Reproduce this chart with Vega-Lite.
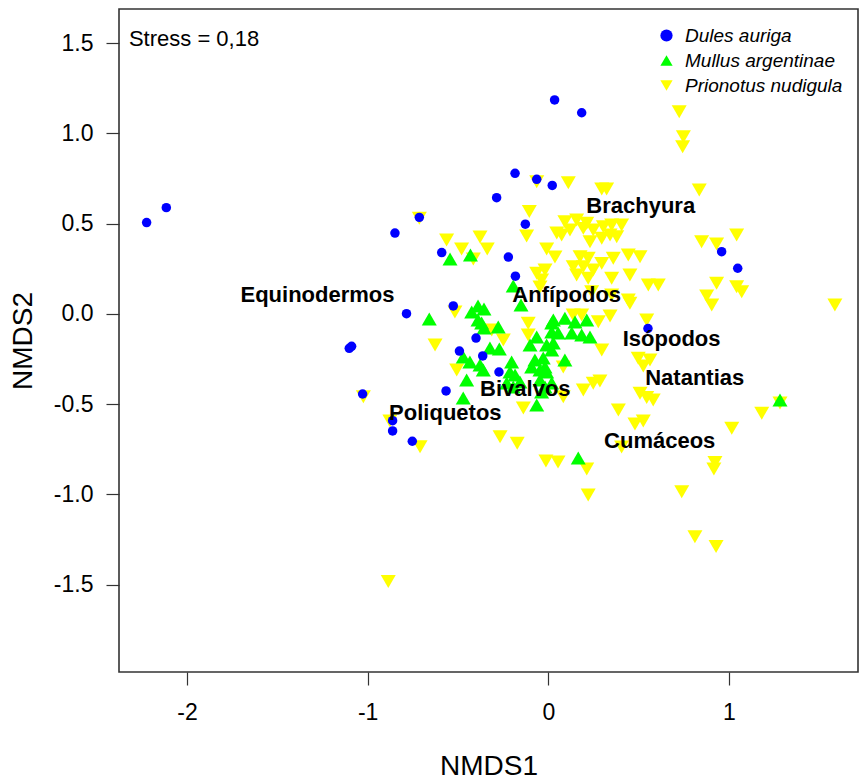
{
  "$schema": "https://vega.github.io/schema/vega-lite/v6.json",
  "width": 739,
  "height": 663,
  "autosize": {"type": "none"},
  "padding": {"left": 119, "top": 9, "right": 1, "bottom": 108},
  "config": {
    "font": "Liberation Sans",
    "view": {"stroke": "#333333", "strokeWidth": 1.6},
    "axis": {"grid": false, "domain": false, "tickColor": "#333333", "tickWidth": 1.2, "tickSize": 13, "labelColor": "#000000", "titleColor": "#000000", "titleFontWeight": "normal", "labelFont": "Liberation Sans", "titleFont": "Liberation Sans"}
  },
  "layer": [
    {
      "data": {"values": [
        {"sp":"Prionotus nudigula","x":0.725,"y":1.121},{"sp":"Prionotus nudigula","x":0.748,"y":0.982},{"sp":"Prionotus nudigula","x":0.744,"y":0.927},{"sp":"Prionotus nudigula","x":0.111,"y":0.727},{"sp":"Prionotus nudigula","x":0.296,"y":0.692},{"sp":"Prionotus nudigula","x":0.323,"y":0.692},{"sp":"Prionotus nudigula","x":0.836,"y":0.687},{"sp":"Prionotus nudigula","x":-0.064,"y":0.733},{"sp":"Prionotus nudigula","x":-0.714,"y":0.530},{"sp":"Prionotus nudigula","x":-0.105,"y":0.567},
        {"sp":"Prionotus nudigula","x":-0.120,"y":0.432},{"sp":"Prionotus nudigula","x":-0.563,"y":0.410},{"sp":"Prionotus nudigula","x":-0.378,"y":0.426},{"sp":"Prionotus nudigula","x":-0.480,"y":0.360},{"sp":"Prionotus nudigula","x":-0.338,"y":0.360},{"sp":"Prionotus nudigula","x":-0.415,"y":0.304},{"sp":"Prionotus nudigula","x":-0.009,"y":0.360},{"sp":"Prionotus nudigula","x":0.037,"y":0.315},{"sp":"Prionotus nudigula","x":0.047,"y":0.448},{"sp":"Prionotus nudigula","x":0.092,"y":0.511},
        {"sp":"Prionotus nudigula","x":0.157,"y":0.521},{"sp":"Prionotus nudigula","x":0.213,"y":0.502},{"sp":"Prionotus nudigula","x":0.074,"y":0.437},{"sp":"Prionotus nudigula","x":0.120,"y":0.465},{"sp":"Prionotus nudigula","x":0.194,"y":0.474},{"sp":"Prionotus nudigula","x":0.249,"y":0.465},{"sp":"Prionotus nudigula","x":0.305,"y":0.483},{"sp":"Prionotus nudigula","x":0.351,"y":0.493},{"sp":"Prionotus nudigula","x":0.406,"y":0.493},{"sp":"Prionotus nudigula","x":0.231,"y":0.400},
        {"sp":"Prionotus nudigula","x":0.296,"y":0.419},{"sp":"Prionotus nudigula","x":0.342,"y":0.437},{"sp":"Prionotus nudigula","x":0.379,"y":0.428},{"sp":"Prionotus nudigula","x":0.176,"y":0.317},{"sp":"Prionotus nudigula","x":0.221,"y":0.308},{"sp":"Prionotus nudigula","x":0.138,"y":0.262},{"sp":"Prionotus nudigula","x":0.194,"y":0.262},{"sp":"Prionotus nudigula","x":0.249,"y":0.243},{"sp":"Prionotus nudigula","x":0.296,"y":0.280},{"sp":"Prionotus nudigula","x":0.360,"y":0.308},
        {"sp":"Prionotus nudigula","x":0.443,"y":0.326},{"sp":"Prionotus nudigula","x":0.508,"y":0.317},{"sp":"Prionotus nudigula","x":0.157,"y":0.216},{"sp":"Prionotus nudigula","x":0.221,"y":0.197},{"sp":"Prionotus nudigula","x":0.351,"y":0.197},{"sp":"Prionotus nudigula","x":0.452,"y":0.216},{"sp":"Prionotus nudigula","x":0.554,"y":0.160},{"sp":"Prionotus nudigula","x":0.609,"y":0.160},{"sp":"Prionotus nudigula","x":-0.018,"y":0.243},{"sp":"Prionotus nudigula","x":-0.037,"y":0.188},
        {"sp":"Prionotus nudigula","x":-0.064,"y":0.225},{"sp":"Prionotus nudigula","x":-0.046,"y":0.149},{"sp":"Prionotus nudigula","x":0.240,"y":0.123},{"sp":"Prionotus nudigula","x":0.351,"y":0.105},{"sp":"Prionotus nudigula","x":0.443,"y":0.077},{"sp":"Prionotus nudigula","x":0.849,"y":0.400},{"sp":"Prionotus nudigula","x":0.932,"y":0.387},{"sp":"Prionotus nudigula","x":1.043,"y":0.437},{"sp":"Prionotus nudigula","x":0.932,"y":0.170},{"sp":"Prionotus nudigula","x":0.877,"y":0.099},
        {"sp":"Prionotus nudigula","x":0.905,"y":0.049},{"sp":"Prionotus nudigula","x":1.043,"y":0.151},{"sp":"Prionotus nudigula","x":1.071,"y":0.123},{"sp":"Prionotus nudigula","x":1.587,"y":0.049},{"sp":"Prionotus nudigula","x":0.277,"y":-0.043},{"sp":"Prionotus nudigula","x":0.342,"y":-0.012},{"sp":"Prionotus nudigula","x":0.138,"y":-0.006},{"sp":"Prionotus nudigula","x":0.185,"y":-0.006},{"sp":"Prionotus nudigula","x":0.545,"y":-0.034},{"sp":"Prionotus nudigula","x":0.452,"y":0.059},
        {"sp":"Prionotus nudigula","x":-0.517,"y":0.011},{"sp":"Prionotus nudigula","x":-0.627,"y":-0.172},{"sp":"Prionotus nudigula","x":-0.507,"y":-0.311},{"sp":"Prionotus nudigula","x":-0.111,"y":-0.052},{"sp":"Prionotus nudigula","x":-0.111,"y":-0.117},{"sp":"Prionotus nudigula","x":-0.249,"y":-0.145},{"sp":"Prionotus nudigula","x":-0.313,"y":-0.089},{"sp":"Prionotus nudigula","x":-0.138,"y":-0.522},{"sp":"Prionotus nudigula","x":-0.267,"y":-0.681},{"sp":"Prionotus nudigula","x":-0.172,"y":-0.717},
        {"sp":"Prionotus nudigula","x":-0.013,"y":-0.815},{"sp":"Prionotus nudigula","x":0.054,"y":-0.821},{"sp":"Prionotus nudigula","x":0.213,"y":-0.860},{"sp":"Prionotus nudigula","x":0.221,"y":-1.004},{"sp":"Prionotus nudigula","x":0.296,"y":-0.200},{"sp":"Prionotus nudigula","x":0.498,"y":-0.246},{"sp":"Prionotus nudigula","x":0.563,"y":-0.256},{"sp":"Prionotus nudigula","x":0.526,"y":-0.289},{"sp":"Prionotus nudigula","x":0.286,"y":-0.372},{"sp":"Prionotus nudigula","x":0.194,"y":-0.422},
        {"sp":"Prionotus nudigula","x":0.508,"y":-0.440},{"sp":"Prionotus nudigula","x":0.545,"y":-0.463},{"sp":"Prionotus nudigula","x":0.581,"y":-0.477},{"sp":"Prionotus nudigula","x":0.388,"y":-0.533},{"sp":"Prionotus nudigula","x":0.480,"y":-0.610},{"sp":"Prionotus nudigula","x":0.526,"y":-0.594},{"sp":"Prionotus nudigula","x":0.406,"y":-0.738},{"sp":"Prionotus nudigula","x":1.182,"y":-0.551},{"sp":"Prionotus nudigula","x":1.016,"y":-0.634},{"sp":"Prionotus nudigula","x":1.283,"y":-0.494},
        {"sp":"Prionotus nudigula","x":0.923,"y":-0.824},{"sp":"Prionotus nudigula","x":0.917,"y":-0.860},{"sp":"Prionotus nudigula","x":0.739,"y":-0.986},{"sp":"Prionotus nudigula","x":0.812,"y":-1.235},{"sp":"Prionotus nudigula","x":0.929,"y":-1.290},{"sp":"Prionotus nudigula","x":-0.710,"y":-0.736},{"sp":"Prionotus nudigula","x":-0.886,"y":-1.484},{"sp":"Prionotus nudigula","x":-1.024,"y":-0.459},{"sp":"Prionotus nudigula","x":-0.877,"y":-0.594},{"sp":"Prionotus nudigula","x":0.083,"y":-0.294},
        {"sp":"Prionotus nudigula","x":0.083,"y":-0.459},{"sp":"Prionotus nudigula","x":0.249,"y":-0.385},

        {"sp":"Mullus argentinae","x":-0.544,"y":0.304},{"sp":"Mullus argentinae","x":-0.431,"y":0.326},{"sp":"Mullus argentinae","x":-0.194,"y":0.155},{"sp":"Mullus argentinae","x":-0.151,"y":0.049},{"sp":"Mullus argentinae","x":-0.389,"y":0.044},{"sp":"Mullus argentinae","x":-0.356,"y":0.027},{"sp":"Mullus argentinae","x":-0.659,"y":-0.028},{"sp":"Mullus argentinae","x":-0.424,"y":0.011},{"sp":"Mullus argentinae","x":-0.389,"y":-0.034},{"sp":"Mullus argentinae","x":-0.356,"y":-0.078},
        {"sp":"Mullus argentinae","x":-0.277,"y":-0.073},{"sp":"Mullus argentinae","x":-0.323,"y":-0.189},{"sp":"Mullus argentinae","x":-0.271,"y":-0.195},{"sp":"Mullus argentinae","x":-0.471,"y":-0.239},{"sp":"Mullus argentinae","x":-0.434,"y":-0.267},{"sp":"Mullus argentinae","x":-0.378,"y":-0.283},{"sp":"Mullus argentinae","x":-0.360,"y":-0.311},{"sp":"Mullus argentinae","x":-0.203,"y":-0.267},{"sp":"Mullus argentinae","x":-0.212,"y":-0.322},{"sp":"Mullus argentinae","x":-0.184,"y":-0.339},
        {"sp":"Mullus argentinae","x":-0.101,"y":-0.172},{"sp":"Mullus argentinae","x":-0.074,"y":-0.256},{"sp":"Mullus argentinae","x":-0.092,"y":-0.294},{"sp":"Mullus argentinae","x":-0.046,"y":-0.311},{"sp":"Mullus argentinae","x":-0.064,"y":-0.128},{"sp":"Mullus argentinae","x":0.019,"y":-0.100},{"sp":"Mullus argentinae","x":0.028,"y":-0.161},{"sp":"Mullus argentinae","x":0.019,"y":-0.050},{"sp":"Mullus argentinae","x":-0.452,"y":-0.366},{"sp":"Mullus argentinae","x":-0.471,"y":-0.466},
        {"sp":"Mullus argentinae","x":-0.230,"y":-0.383},{"sp":"Mullus argentinae","x":-0.194,"y":-0.405},{"sp":"Mullus argentinae","x":-0.157,"y":-0.377},{"sp":"Mullus argentinae","x":-0.064,"y":-0.505},{"sp":"Mullus argentinae","x":0.019,"y":-0.383},{"sp":"Mullus argentinae","x":0.028,"y":-0.034},{"sp":"Mullus argentinae","x":0.092,"y":-0.024},{"sp":"Mullus argentinae","x":0.148,"y":-0.045},{"sp":"Mullus argentinae","x":0.213,"y":-0.034},{"sp":"Mullus argentinae","x":0.055,"y":-0.106},
        {"sp":"Mullus argentinae","x":0.130,"y":-0.106},{"sp":"Mullus argentinae","x":0.185,"y":-0.117},{"sp":"Mullus argentinae","x":0.231,"y":-0.128},{"sp":"Mullus argentinae","x":-0.009,"y":-0.172},{"sp":"Mullus argentinae","x":0.019,"y":-0.200},{"sp":"Mullus argentinae","x":-0.028,"y":-0.244},{"sp":"Mullus argentinae","x":0.092,"y":-0.256},{"sp":"Mullus argentinae","x":-0.018,"y":-0.294},{"sp":"Mullus argentinae","x":-0.009,"y":-0.322},{"sp":"Mullus argentinae","x":-0.046,"y":-0.366},
        {"sp":"Mullus argentinae","x":-0.018,"y":-0.405},{"sp":"Mullus argentinae","x":-0.037,"y":-0.433},{"sp":"Mullus argentinae","x":0.166,"y":-0.799},{"sp":"Mullus argentinae","x":1.283,"y":-0.477},{"sp":"Mullus argentinae","x":-0.369,"y":-0.050},

        {"sp":"Dules auriga","x":-2.224,"y":0.506},{"sp":"Dules auriga","x":-2.115,"y":0.589},{"sp":"Dules auriga","x":-0.849,"y":0.448},{"sp":"Dules auriga","x":0.035,"y":1.186},{"sp":"Dules auriga","x":0.185,"y":1.115},{"sp":"Dules auriga","x":-0.184,"y":0.779},{"sp":"Dules auriga","x":-0.064,"y":0.746},{"sp":"Dules auriga","x":0.022,"y":0.712},{"sp":"Dules auriga","x":-0.286,"y":0.644},{"sp":"Dules auriga","x":-0.714,"y":0.535},
        {"sp":"Dules auriga","x":-0.127,"y":0.497},{"sp":"Dules auriga","x":-0.590,"y":0.340},{"sp":"Dules auriga","x":-0.221,"y":0.315},{"sp":"Dules auriga","x":-0.182,"y":0.209},{"sp":"Dules auriga","x":-0.526,"y":0.044},{"sp":"Dules auriga","x":-0.785,"y":0.001},{"sp":"Dules auriga","x":-1.102,"y":-0.191},{"sp":"Dules auriga","x":-1.089,"y":-0.180},{"sp":"Dules auriga","x":-0.400,"y":-0.134},{"sp":"Dules auriga","x":-0.492,"y":-0.206},
        {"sp":"Dules auriga","x":-0.363,"y":-0.233},{"sp":"Dules auriga","x":-0.273,"y":-0.322},{"sp":"Dules auriga","x":-0.566,"y":-0.427},{"sp":"Dules auriga","x":-1.028,"y":-0.444},{"sp":"Dules auriga","x":-0.862,"y":-0.592},{"sp":"Dules auriga","x":-0.862,"y":-0.649},{"sp":"Dules auriga","x":-0.753,"y":-0.706},{"sp":"Dules auriga","x":0.960,"y":0.345},{"sp":"Dules auriga","x":1.049,"y":0.253},{"sp":"Dules auriga","x":0.552,"y":-0.081}
      ]},
      "mark": {"type": "point", "filled": true, "opacity": 1, "strokeWidth": 0},
      "encoding": {
        "x": {"field": "x", "type": "quantitative", "scale": {"domain": [-2.377, 1.715], "nice": false, "zero": false},
              "axis": {"values": [-2, -1, 0, 1], "labelExpr": "replace(format(datum.value, 'd'), '\u2212', '-')", "labelFontSize": 23, "labelPadding": 16, "title": "NMDS1", "titleFontSize": 28, "titleBaseline": "alphabetic", "titleY": 102}},
        "y": {"field": "y", "type": "quantitative", "scale": {"domain": [-1.985, 1.69], "nice": false, "zero": false},
              "axis": {"values": [-1.5, -1, -0.5, 0, 0.5, 1, 1.5], "labelExpr": "replace(format(datum.value, '.1f'), '\u2212', '-')", "labelFontSize": 23, "labelPadding": 13, "title": "NMDS2", "titleFontSize": 28, "titleBaseline": "alphabetic", "titleX": -88}},
        "color": {"field": "sp", "type": "nominal",
                  "scale": {"domain": ["Dules auriga", "Mullus argentinae", "Prionotus nudigula"], "range": ["#0000FF", "#00FF00", "#FFFF00"]},
                  "legend": {"title": null, "orient": "none", "legendX": 538, "legendY": 17, "padding": 0, "labelFontSize": 19, "labelFontStyle": "italic", "labelColor": "#000000", "labelOffset": 9, "rowPadding": 5, "symbolSize": 150, "labelLimit": 0}},
        "shape": {"field": "sp", "type": "nominal",
                  "scale": {"domain": ["Dules auriga", "Mullus argentinae", "Prionotus nudigula"], "range": ["circle", "triangle-up", "triangle-down"]}},
        "size": {"condition": {"test": "datum.sp === 'Dules auriga'", "value": 90}, "value": 225}
      }
    },
    {
      "mark": {"type": "rule", "strokeDash": [7, 4], "color": "#222222", "strokeWidth": 1.3},
      "encoding": {"y": {"datum": 0}}
    },
    {
      "mark": {"type": "rule", "strokeDash": [7, 4], "color": "#222222", "strokeWidth": 1.3},
      "encoding": {"x": {"datum": 0}}
    },
    {
      "data": {"values": [
        {"label": "Brachyura", "x": 0.512, "y": 0.598},
        {"label": "Equinodermos", "x": -1.278, "y": 0.105},
        {"label": "Anfípodos", "x": 0.102, "y": 0.105},
        {"label": "Isópodos", "x": 0.683, "y": -0.139},
        {"label": "Natantias", "x": 0.811, "y": -0.353},
        {"label": "Bivalvos", "x": -0.127, "y": -0.416},
        {"label": "Poliquetos", "x": -0.570, "y": -0.547},
        {"label": "Cumáceos", "x": 0.617, "y": -0.705}
      ]},
      "mark": {"type": "text", "font": "Liberation Sans", "fontWeight": "bold", "fontSize": 22, "align": "center", "baseline": "middle", "color": "#000000"},
      "encoding": {
        "x": {"field": "x", "type": "quantitative"},
        "y": {"field": "y", "type": "quantitative"},
        "text": {"field": "label"}
      }
    },
    {
      "data": {"values": [{"note": "Stress = 0,18", "x": -2.322, "y": 1.487}]},
      "mark": {"type": "text", "font": "Liberation Sans", "fontSize": 22, "align": "left", "baseline": "alphabetic", "color": "#000000"},
      "encoding": {
        "x": {"field": "x", "type": "quantitative"},
        "y": {"field": "y", "type": "quantitative"},
        "text": {"field": "note"}
      }
    }
  ]
}
